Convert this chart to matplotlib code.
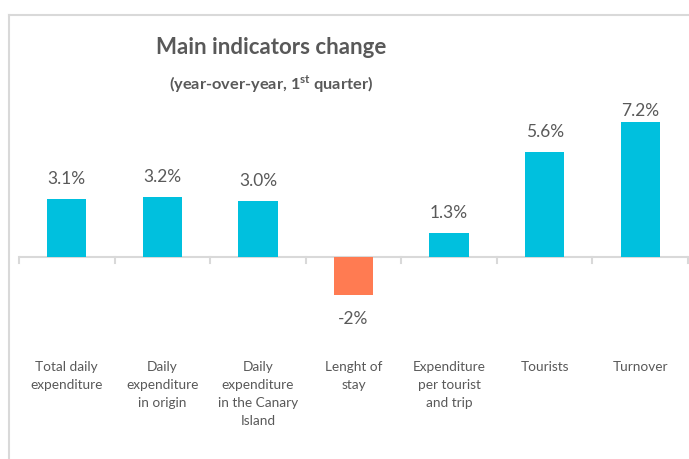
import matplotlib.pyplot as plt
from matplotlib.lines import Line2D

# data
categories = [
    "Total daily\nexpenditure",
    "Daily\nexpenditure\nin origin",
    "Daily\nexpenditure\nin the Canary\nIsland",
    "Lenght of\nstay",
    "Expenditure\nper tourist\nand trip",
    "Tourists",
    "Turnover",
]
values = [3.1, 3.2, 3.0, -2.0, 1.3, 5.6, 7.2]
value_labels = ["3.1%", "3.2%", "3.0%", "-2%", "1.3%", "5.6%", "7.2%"]

POS_COLOR = "#00C0DE"
NEG_COLOR = "#FF7B52"
TEXT_COLOR = "#595959"
LINE_COLOR = "#D9D9D9"

plt.rcParams["font.family"] = ["Lato", "DejaVu Sans"]
plt.rcParams["mathtext.fontset"] = "custom"
plt.rcParams["mathtext.rm"] = "Lato"
plt.rcParams["mathtext.bf"] = "Lato:bold"

W, H = 689, 459
fig = plt.figure(figsize=(W / 100, H / 100), dpi=100)

# plot area: zero line at y=257px, 18.75 px per percentage point
ax = fig.add_axes([19 / W, (H - 332) / H, 669 / W, 225 / H])
ax.set_xlim(-0.5, len(categories) - 0.5)
ax.set_ylim(-4, 8)

colors = [POS_COLOR if v >= 0 else NEG_COLOR for v in values]
x = list(range(len(categories)))
ax.bar(x, values, width=0.41, color=colors, zorder=2)

# axis line at zero with tick marks between the categories
ax.axhline(0, color=LINE_COLOR, lw=1.5, zorder=1)
for b in [i - 0.5 for i in range(len(categories) + 1)]:
    ax.plot([b, b], [0, -0.3], color=LINE_COLOR, lw=1.5, zorder=1, clip_on=False)

for xi, v, lab in zip(x, values, value_labels):
    if v >= 0:
        off = 20 if v < 7 else 11
    else:
        off = -24
    ax.annotate(lab, (xi, v), xytext=(0, off), textcoords="offset pixels",
                ha="center", va="center", fontsize=12.5, color=TEXT_COLOR)

for xi, cat in zip(x, categories):
    ax.text(xi, -5.55, cat, ha="center", va="top", fontsize=9.8,
            color=TEXT_COLOR, linespacing=1.6)

ax.axis("off")

# titles
fig.text(271 / W, 1 - 47 / H, "Main indicators change", ha="center", va="center",
         fontsize=16, fontweight="bold", color=TEXT_COLOR)
fig.text(271 / W, 1 - 84 / H, r"(year-over-year, 1$^{\mathbf{st}}$ quarter)",
         ha="center", va="center", fontsize=11.8, fontweight="bold", color=TEXT_COLOR)

# chart frame (cropped on the right and bottom)
fig.add_artist(Line2D([9 / W, 1], [1 - 15 / H, 1 - 15 / H], color=LINE_COLOR, lw=1.5,
                      transform=fig.transFigure))
fig.add_artist(Line2D([9 / W, 9 / W], [0, 1 - 15 / H], color=LINE_COLOR, lw=1.5,
                      transform=fig.transFigure))

fig.savefig("out.png", dpi=100)
